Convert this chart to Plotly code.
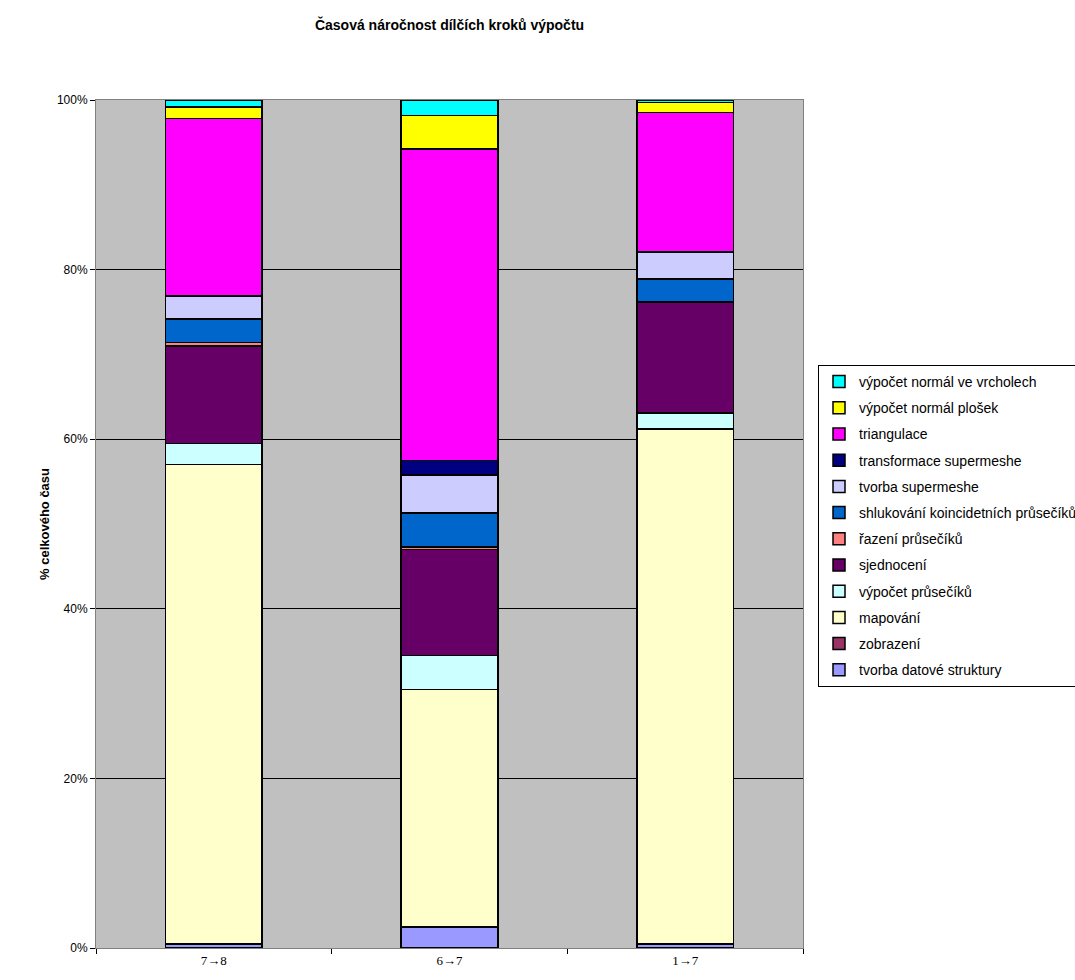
import plotly.graph_objects as go

categories = ["7\u21928", "6\u21927", "1\u21927"]

series_names = [
    "tvorba datové struktury",
    "zobrazení",
    "mapování",
    "výpočet průsečíků",
    "sjednocení",
    "řazení průsečíků",
    "shlukování koincidetních průsečíků",
    "tvorba supermeshe",
    "transformace supermeshe",
    "triangulace",
    "výpočet normál plošek",
    "výpočet normál ve vrcholech",
]

tvorba_datove_struktury = [0.4, 2.4, 0.4]
zobrazeni = [0.1, 0.1, 0.1]
mapovani = [56.5, 28.0, 60.7]
vypocet_pruseciku = [2.5, 4.0, 1.9]
sjednoceni = [11.5, 12.5, 13.0]
razeni_pruseciku = [0.4, 0.3, 0.1]
shlukovani = [2.8, 4.0, 2.7]
tvorba_supermeshe = [2.6, 4.5, 3.1]
transformace_supermeshe = [0.1, 1.7, 0.1]
triangulace = [20.9, 36.7, 16.4]
normal_plosek = [1.4, 4.0, 1.2]
normal_vrcholy = [0.8, 1.8, 0.3]

series_values = [
    tvorba_datove_struktury, zobrazeni, mapovani, vypocet_pruseciku, sjednoceni,
    razeni_pruseciku, shlukovani, tvorba_supermeshe, transformace_supermeshe,
    triangulace, normal_plosek, normal_vrcholy,
]

colors = [
    "#9999FF", "#993366", "#FFFFCC", "#CCFFFF", "#660066", "#FF8080",
    "#0066CC", "#CCCCFF", "#000080", "#FF00FF", "#FFFF00", "#00FFFF",
]

n = len(series_names)
fig = go.Figure()
for i, (name, vals, col) in enumerate(zip(series_names, series_values, colors)):
    fig.add_trace(go.Bar(
        x=categories, y=vals, name=name,
        marker=dict(color=col, line=dict(color="black", width=1.5)),
        legendgroup="g%d" % i,
        legendrank=100 + (n - i),
    ))

fig.update_layout(
    barmode="stack",
    barnorm="percent",
    bargap=0.59,
    width=1075, height=980,
    paper_bgcolor="white",
    plot_bgcolor="#C0C0C0",
    margin=dict(l=96, r=272, t=100, b=32, autoexpand=False),
    title=dict(
        text="<b>Časová náročnost dílčích kroků výpočtu</b>",
        x=(96 + 803) / 2 / 1075, xanchor="center",
        y=1 - 25 / 980, yanchor="middle",
        font=dict(family="Arial, Liberation Sans", size=14, color="black"),
    ),
    font=dict(family="Arial, Liberation Sans", size=12, color="black"),
    legend=dict(
        x=(818 - 96) / 707, xanchor="left",
        y=(948 - 365) / 848, yanchor="top",
        bgcolor="white", bordercolor="black", borderwidth=1,
        traceorder="grouped",
        tracegroupgap=5,
        font=dict(family="Arial, Liberation Sans", size=14, color="black"),
        itemwidth=30,
    ),
    showlegend=True,
)

fig.update_yaxes(
    range=[0, 100],
    tickvals=[0, 20, 40, 60, 80, 100],
    ticktext=["0%", "20%", "40%", "60%", "80%", "100%"],
    ticks="outside", ticklen=5, tickcolor="black",
    showgrid=True, gridcolor="black", gridwidth=1,
    showline=True, linecolor="#808080", linewidth=1, mirror=True,
    zeroline=False,
    title=dict(text="<b>% celkového času</b>", font=dict(size=13), standoff=4),
)
fig.update_xaxes(
    ticks="outside", ticklen=5, tickcolor="black", tickson="boundaries",
    showline=True, linecolor="#808080", linewidth=1, mirror=True,
    tickfont=dict(family="Liberation Serif, Times New Roman", size=13),
)

fig.write_html("out.html")
